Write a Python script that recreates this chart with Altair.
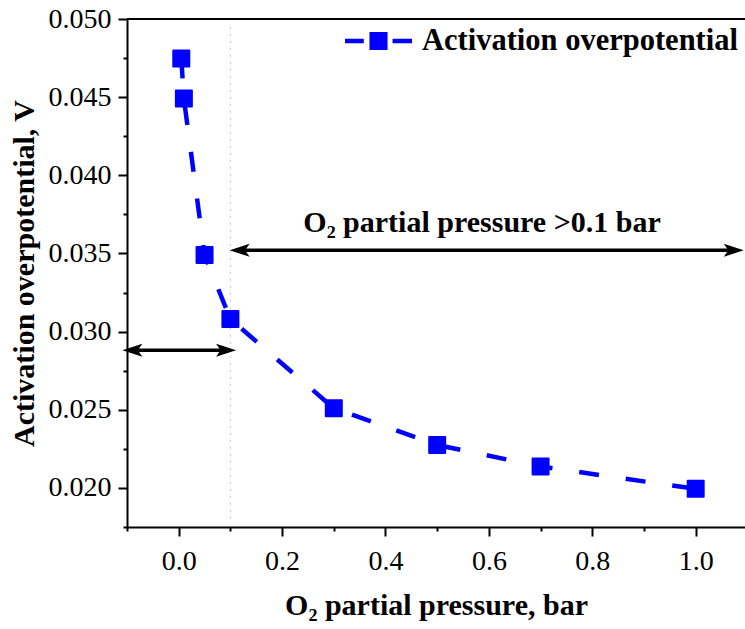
import altair as alt
import pandas as pd

# Activation overpotential versus O2 partial pressure
pressure = [0.005, 0.01, 0.05, 0.1, 0.3, 0.5, 0.7, 1.0]
overpotential = [0.04748, 0.04491, 0.03490, 0.03080, 0.02510, 0.02275, 0.02137, 0.01994]
series_name = "Activation overpotential"

# Axis ranges, labelled (major) ticks and unlabelled (minor) ticks
x_domain = [-0.1, 1.0954]
y_domain = [0.0175, 0.050]
x_major = [0.0, 0.2, 0.4, 0.6, 0.8, 1.0]
x_minor = [-0.1, 0.1, 0.3, 0.5, 0.7, 0.9]
y_major = [0.020, 0.025, 0.030, 0.035, 0.040, 0.045, 0.050]
y_minor = [0.0175, 0.0225, 0.0275, 0.0325, 0.0375, 0.0425, 0.0475]

# Double-headed range arrows
arrow_start = [-0.109, 0.0985]
arrow_end = [0.111, 1.093]
arrow_level = [0.0288, 0.0352]
arrow_inset = 0.028

# Threshold marker and annotation
threshold = 0.1
threshold_span = [0.0495, 0.0179]
note_text = "O\u2082 partial pressure >0.1 bar"
note_x = 0.241
note_y = 0.03639

FONT = "Liberation Serif"
BLUE = "#0000ff"

data = pd.DataFrame({"p": pressure, "v": overpotential, "series": series_name})
arrows = pd.DataFrame({
    "x0": arrow_start, "x1": arrow_end, "y": arrow_level,
    "x0i": [a + arrow_inset for a in arrow_start],
    "x1i": [b - arrow_inset for b in arrow_end],
})
border = pd.DataFrame({"x0": [x_domain[0]], "x1": [x_domain[1]], "y": [y_domain[1]]})
thr = pd.DataFrame({"x": [threshold], "y0": [threshold_span[0]], "y1": [threshold_span[1]]})
note_df = pd.DataFrame({"t": [note_text], "x": [note_x], "y": [note_y]})

xs = alt.Scale(domain=x_domain, nice=False, zero=False)
ys = alt.Scale(domain=y_domain, nice=False, zero=False)

label_style = dict(labelFont=FONT, labelFontSize=28, labelColor="black",
                   labelFontWeight="normal")
title_style = dict(titleFont=FONT, titleFontSize=30, titleFontWeight="bold",
                   titleColor="black")

x_axis = alt.Axis(
    values=x_major, format=".1f", tickSize=9, orient="bottom",
    title="O\u2082 partial pressure, bar",
    titleY=87, titleBaseline="alphabetic",
    labelPadding=11, grid=False, **label_style, **title_style,
)
y_axis = alt.Axis(
    values=y_major, format=".3f", tickSize=9, orient="left",
    title="Activation overpotential, V",
    titleX=-94, titleBaseline="alphabetic",
    labelPadding=7, grid=False, **label_style, **title_style,
)
x_axis_minor = alt.Axis(values=x_minor, tickSize=4, labels=False, domain=False,
                        title=None, orient="bottom", grid=False)
y_axis_minor = alt.Axis(values=y_minor, tickSize=4, labels=False, domain=False,
                        title=None, orient="left", grid=False)

line = alt.Chart(data).mark_line(
    color=BLUE, strokeWidth=4.5, strokeDash=[20, 27]
).encode(
    x=alt.X("p:Q", scale=xs, axis=x_axis),
    y=alt.Y("v:Q", scale=ys, axis=y_axis),
)

minor_ticks = alt.Chart(data).mark_point(opacity=0).encode(
    x=alt.X("p:Q", scale=xs, axis=x_axis_minor),
    y=alt.Y("v:Q", scale=ys, axis=y_axis_minor),
)

points = alt.Chart(data).mark_point(
    shape="square", filled=True, size=256, opacity=1,
    stroke=BLUE, strokeWidth=2, strokeJoin="round",
).encode(
    x=alt.X("p:Q", scale=xs, axis=None),
    y=alt.Y("v:Q", scale=ys, axis=None),
    color=alt.Color(
        "series:N",
        scale=alt.Scale(domain=[series_name], range=[BLUE]),
        legend=alt.Legend(
            title=None, orient="none", legendX=218, legendY=-11.5,
            padding=0,
            symbolType="M-1,-0.07H-0.44V0.07H-1Z M-0.27,-0.27H0.27V0.27H-0.27Z M0.42,-0.07H1V0.07H0.42Z",
            symbolSize=4489, symbolStrokeWidth=0, symbolFillColor=BLUE,
            labelFont=FONT, labelFontSize=30.5, labelFontWeight="bold",
            labelColor="black", labelOffset=10, labelLimit=500,
        ),
    ),
)

top_border = alt.Chart(border).mark_rule(color="black", strokeWidth=2).encode(
    x=alt.X("x0:Q", scale=xs, axis=None), x2="x1:Q",
    y=alt.Y("y:Q", scale=ys, axis=None),
)

threshold_line = alt.Chart(thr).mark_rule(
    color="#c4c4c4", strokeWidth=1, strokeDash=[2, 5]
).encode(
    x=alt.X("x:Q", scale=xs, axis=None),
    y=alt.Y("y0:Q", scale=ys, axis=None), y2="y1:Q",
)

arrow_shaft = alt.Chart(arrows).mark_rule(color="black", strokeWidth=3.5).encode(
    x=alt.X("x0i:Q", scale=xs, axis=None), x2="x1i:Q",
    y=alt.Y("y:Q", scale=ys, axis=None),
)
head_left = alt.Chart(arrows).mark_point(
    shape="M0,0L2,-0.65L1.55,0L2,0.65Z", filled=True, size=400,
    color="black", opacity=1,
).encode(x=alt.X("x0:Q", scale=xs, axis=None), y=alt.Y("y:Q", scale=ys, axis=None))
head_right = alt.Chart(arrows).mark_point(
    shape="M0,0L-2,-0.65L-1.55,0L-2,0.65Z", filled=True, size=400,
    color="black", opacity=1,
).encode(x=alt.X("x1:Q", scale=xs, axis=None), y=alt.Y("y:Q", scale=ys, axis=None))

note = alt.Chart(note_df).mark_text(
    font=FONT, fontSize=30, fontWeight="bold", color="black",
    align="left", baseline="alphabetic",
).encode(
    x=alt.X("x:Q", scale=xs, axis=None),
    y=alt.Y("y:Q", scale=ys, axis=None),
    text="t:N",
)

chart = alt.layer(
    minor_ticks, threshold_line, top_border, line, points,
    arrow_shaft, head_left, head_right, note,
).resolve_axis(x="independent", y="independent").properties(
    width=618, height=508,
    autosize=alt.AutoSizeParams(type="none"),
    padding={"left": 127, "top": 19, "right": 0, "bottom": 102},
).configure_view(stroke=None).configure_axis(
    domainColor="black", domainWidth=2, tickColor="black", tickWidth=2,
)

chart.save("out.html", embed_options={"renderer": "svg", "actions": False})
